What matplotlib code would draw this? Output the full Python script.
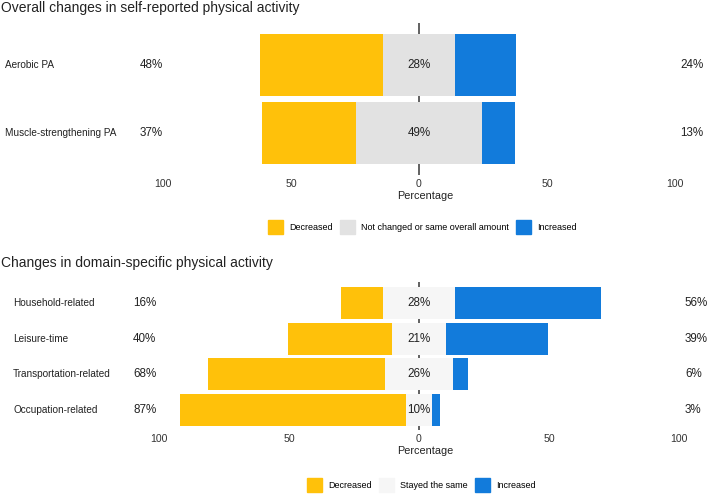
import matplotlib

matplotlib.use("Agg")
import matplotlib.pyplot as plt
import matplotlib.transforms as mtransforms
from matplotlib.patches import Patch

plt.rcParams["font.family"] = ["Liberation Sans", "DejaVu Sans"]

# overall PA
overall_items = ["Aerobic PA", "Muscle-strengthening PA"]
overall_dec = [48, 37]
overall_same = [28, 49]
overall_inc = [24, 13]
overall_levels = ["Decreased", "Not changed or same overall amount", "Increased"]

# domain-specific PA
domain_items = ["Household-related", "Leisure-time", "Transportation-related", "Occupation-related"]
domain_dec = [16, 40, 68, 87]
domain_same = [28, 21, 26, 10]
domain_inc = [56, 39, 6, 3]
domain_levels = ["Decreased", "Stayed the same", "Increased"]

ticks = [-100, -50, 0, 50, 100]
tick_labels = ["100", "50", "0", "50", "100"]

C_DEC = "#FFC10A"
C_INC = "#127BDB"
C_SAME_TOP = "#E2E2E2"
C_SAME_BOT = "#F6F6F6"

W, H = 708, 494
fig = plt.figure(figsize=(W / 100, H / 100), dpi=100)


def px_axes(x0, x1, y0, y1):
    # pixel box (top-left origin) -> figure fraction
    return fig.add_axes([x0 / W, 1 - y1 / H, (x1 - x0) / W, (y1 - y0) / H])


def likert(ax, items, dec, same, inc, c_same, ylim, bar_h, xlim, lab_x, lft, rgt):
    n = len(items)
    ys = [n - 1 - i for i in range(n)]
    ax.axvline(0, color="#555555", lw=1.3, zorder=0)
    half = [s / 2 for s in same]
    ax.barh(ys, [-d for d in dec], left=[-h for h in half], height=bar_h, color=C_DEC, zorder=2)
    ax.barh(ys, same, left=[-h for h in half], height=bar_h, color=c_same, zorder=2)
    ax.barh(ys, inc, left=half, height=bar_h, color=C_INC, zorder=2)
    trans = mtransforms.blended_transform_factory(fig.transFigure, ax.transData)
    for y, name, d, s, i in zip(ys, items, dec, same, inc):
        ax.text(lab_x / W, y, name, transform=trans, ha="left", va="center", fontsize=7.2, color="#222222")
        ax.text(lft, y, f"{d}%", ha="right", va="center", fontsize=8.4, color="#222222")
        ax.text(0, y, f"{s}%", ha="center", va="center", fontsize=8.4, color="#222222", zorder=3)
        ax.text(rgt, y, f"{i}%", ha="left", va="center", fontsize=8.4, color="#222222")
    ax.set_xlim(*xlim)
    ax.set_ylim(*ylim)
    ax.set_xticks(ticks)
    ax.set_xticklabels(tick_labels)
    ax.set_yticks([])
    ax.tick_params(axis="x", length=0, pad=3, labelsize=7.6, labelcolor="#333333")
    ax.set_xlabel("Percentage", fontsize=7.8, color="#222222", labelpad=1.5)
    for sp in ax.spines.values():
        sp.set_visible(False)
    ax.patch.set_alpha(0)


# top panel: 0 at x=419px, 2.56 px per unit
ax1 = px_axes(150, 700, 23, 175)
likert(ax1, overall_items, overall_dec, overall_same, overall_inc, C_SAME_TOP,
       (-0.62, 1.62), 0.91, ((150 - 419) / 2.56, (700 - 419) / 2.56), 5, -100, 102)

# bottom panel: 0 at x=419px, 2.6 px per unit
ax2 = px_axes(150, 700, 282, 430)
likert(ax2, domain_items, domain_dec, domain_same, domain_inc, C_SAME_BOT,
       (-0.56, 3.59), 0.9, ((150 - 419) / 2.6, (700 - 419) / 2.6), 13, -101, 102.3)

fig.text(1 / W, 1 - 8 / H, "Overall changes in self-reported physical activity",
         ha="left", va="center", fontsize=10, color="#222222")
fig.text(1 / W, 1 - 263 / H, "Changes in domain-specific physical activity",
         ha="left", va="center", fontsize=10, color="#222222")

leg_kw = dict(loc="center", ncol=3, frameon=False, fontsize=6.5, handlelength=1.66,
              handleheight=1.9, handletextpad=0.7, columnspacing=0.8, borderpad=0)
h1 = [Patch(color=c, label=l) for c, l in zip([C_DEC, C_SAME_TOP, C_INC], overall_levels)]
fig.legend(handles=h1, bbox_to_anchor=(422.5 / W, 1 - 227 / H), **leg_kw)
h2 = [Patch(color=c, label=l) for c, l in zip([C_DEC, C_SAME_BOT, C_INC], domain_levels)]
fig.legend(handles=h2, bbox_to_anchor=(421.5 / W, 1 - 485 / H), **leg_kw)

fig.savefig("out.png", dpi=100, facecolor="white")
